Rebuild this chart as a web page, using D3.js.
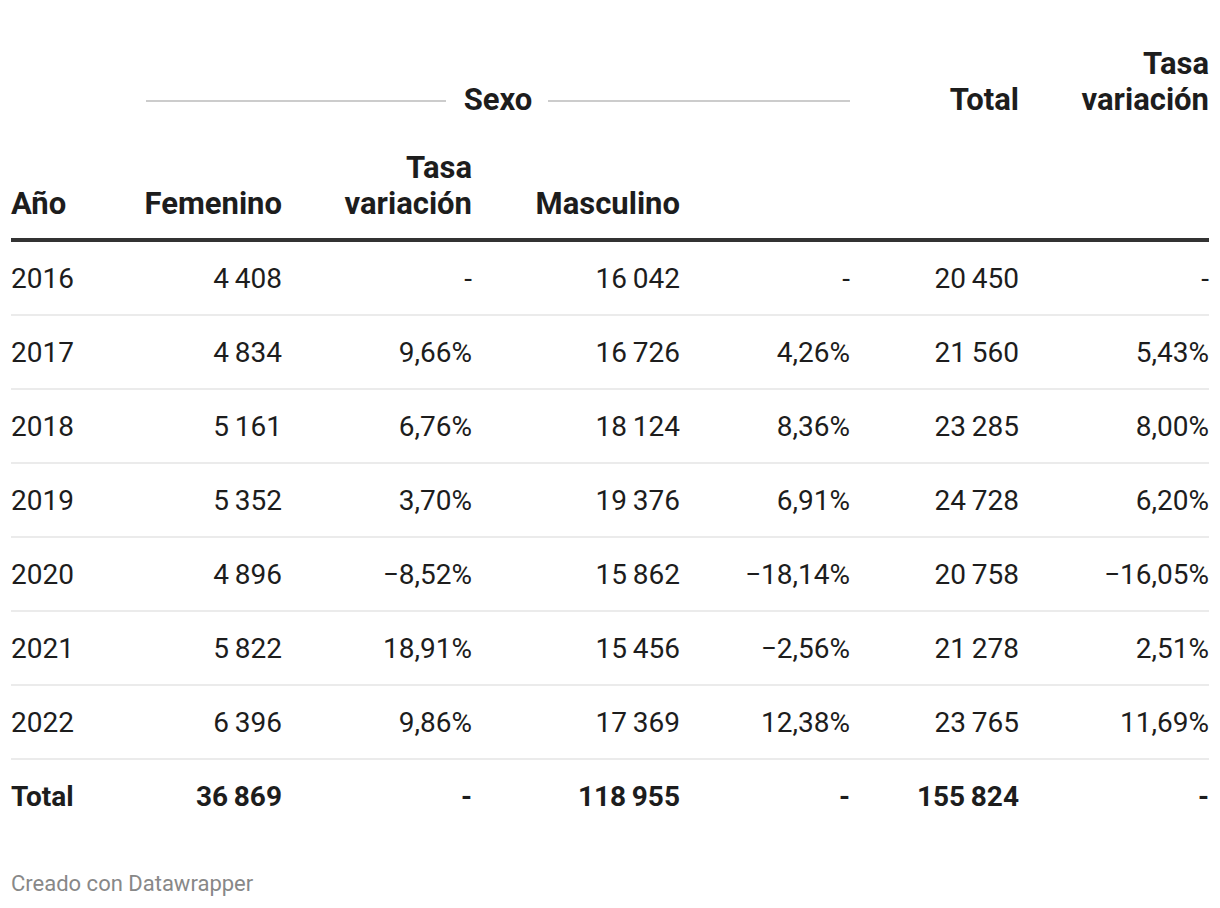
<!DOCTYPE html>
<html>
<head>
<meta charset="utf-8">
<script src="https://cdn.jsdelivr.net/npm/d3@7"></script>
<style>
html,body{margin:0;padding:0;background:#fff;}
svg{display:block;font-family:Roboto,"Noto Sans",sans-serif;}
</style>
</head>
<body>
<svg id="chart" width="1220" height="908"></svg>
<script>
// ---- data ----
const years = ["2016","2017","2018","2019","2020","2021","2022"];
const femenino = [4408,4834,5161,5352,4896,5822,6396];
const femeninoTasa = [null,9.66,6.76,3.70,-8.52,18.91,9.86];
const masculino = [16042,16726,18124,19376,15862,15456,17369];
const masculinoTasa = [null,4.26,8.36,6.91,-18.14,-2.56,12.38];
const totalCol = [20450,21560,23285,24728,20758,21278,23765];
const totalTasa = [null,5.43,8.00,6.20,-16.05,2.51,11.69];
const totalRowLabel = "Total";
const totalRow = [36869,null,118955,null,155824,null];
const columnKeys = ["anio","fem","femT","masc","mascT","tot","totT"];
const columnHeaders = [["Año"],["Femenino"],["Tasa","variación"],["Masculino"],[],["Total"],["Tasa","variación"]];
const groupLabel = "Sexo";
const footer = "Creado con Datawrapper";

// ---- formatting ----
const loc = d3.formatLocale({decimal:",",thousands:"\u2009",grouping:[3],currency:["","€"],minus:"\u2212"});
const fNum = loc.format(",d");
const fPct = v => v==null ? "-" : loc.format(".2f")(v) + "%";
const fN = v => v==null ? "-" : fNum(v);

const svg = d3.select("#chart");
const left = 11, right = 1209;

// column positions (right edges, first column left edge)
const x = d3.scaleOrdinal().domain(columnKeys).range([11,282,472,680,850,1019,1209]);

// rows
const rowKeys = years.concat([totalRowLabel]);
const y = d3.scaleBand().domain(rowKeys).range([241, 241 + 74*rowKeys.length]).padding(0);

const textColor = "#1d1d1d";
const FS = 28, HFS = 31;

// group header
const gy = 101;
svg.append("line").attr("x1",146).attr("x2",446).attr("y1",gy).attr("y2",gy)
  .attr("stroke","#cccccc").attr("stroke-width",2);
svg.append("line").attr("x1",548).attr("x2",850).attr("y1",gy).attr("y2",gy)
  .attr("stroke","#cccccc").attr("stroke-width",2);
svg.append("text").attr("x",498).attr("y",110).attr("text-anchor","middle")
  .attr("font-size",HFS).attr("font-weight",700).attr("fill",textColor).text(groupLabel);

// column headers
const lineH = 36;
columnKeys.forEach((k,i)=>{
  const lines = columnHeaders[i];
  if(!lines.length) return;
  const top = (k==="tot"||k==="totT");
  const baseY = top ? 110 : 214;
  const t = svg.append("text").attr("x",x(k))
    .attr("text-anchor", k==="anio" ? "start" : "end")
    .attr("font-size",HFS).attr("font-weight",700).attr("fill",textColor);
  lines.forEach((l,j)=>{
    t.append("tspan").attr("x",x(k)).attr("y",baseY - (lines.length-1-j)*lineH).text(l);
  });
});

// thick header rule
svg.append("rect").attr("x",left).attr("width",right-left).attr("y",238).attr("height",4).attr("fill","#333333");

// rows
const rows = years.map((yr,i)=>({
  key: yr,
  cells: [yr, fN(femenino[i]), fPct(femeninoTasa[i]), fN(masculino[i]), fPct(masculinoTasa[i]), fN(totalCol[i]), fPct(totalTasa[i])],
  bold:false
}));
rows.push({key: totalRowLabel, cells:[totalRowLabel].concat(totalRow.map(fN)), bold:true});

// separators
rows.slice(0,-1).forEach(r=>{
  svg.append("rect").attr("x",left).attr("width",right-left)
    .attr("y", y(r.key)+y.bandwidth()-1).attr("height",2).attr("fill","#ebebeb");
});

const rg = svg.selectAll("g.row").data(rows).join("g").attr("class","row");
rg.each(function(r){
  const g = d3.select(this);
  r.cells.forEach((c,j)=>{
    g.append("text").attr("x",x(columnKeys[j]))
      .attr("y", y(r.key) + y.bandwidth()/2 + 10)
      .attr("text-anchor", j===0 ? "start" : "end")
      .attr("font-size",FS).attr("font-weight", r.bold?700:400)
      .attr("fill",textColor).text(c);
  });
});

// footer
svg.append("text").attr("x",11).attr("y",891).attr("font-size",22).attr("fill","#888888").text(footer);
</script>
</body>
</html>
